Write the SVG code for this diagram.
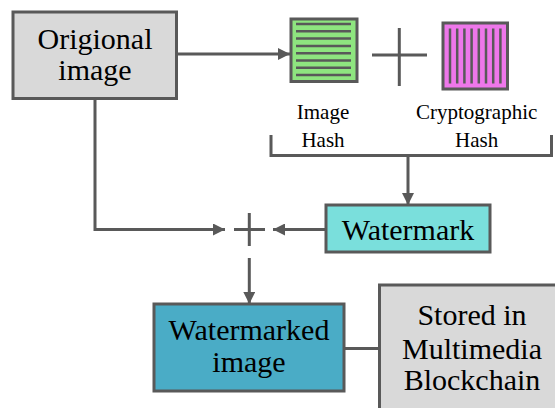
<svg xmlns="http://www.w3.org/2000/svg" width="555" height="408" viewBox="0 0 555 408">
  <defs>
    <style>
      .box { stroke: #595959; stroke-width: 3; }
      .line { stroke: #595959; stroke-width: 3; fill: none; }
      .stripe { stroke: #595959; stroke-width: 2.5; }
      text { font-family: 'Liberation Serif', serif; fill: #000; text-anchor: middle; }
      .big { font-size: 30px; }
      .small { font-size: 21px; }
    </style>
    <marker id="arrow" viewBox="0 0 10 10" refX="10" refY="5" markerWidth="4" markerHeight="4" orient="auto" markerUnits="strokeWidth">
      <path d="M0,0 L10,5 L0,10 z" fill="#595959"/>
    </marker>
  </defs>

  <rect width="555" height="408" fill="#ffffff"/>

  <!-- connectors -->
  <g id="connectors">
    <line class="line" x1="177" y1="54" x2="290" y2="54" marker-end="url(#arrow)"/>
    <polyline class="line" points="95,99 95,229.5 225,229.5" marker-end="url(#arrow)"/>
    <line class="line" x1="326" y1="229.5" x2="273" y2="229.5" marker-end="url(#arrow)"/>
    <polyline class="line" points="271,135 271,155.5 551.5,155.5 551.5,135"/>
    <line class="line" x1="408" y1="155.5" x2="408" y2="205" marker-end="url(#arrow)"/>
    <line class="line" x1="249.3" y1="258" x2="249.3" y2="304" marker-end="url(#arrow)"/>
    <line class="line" x1="344" y1="348.5" x2="379.5" y2="348.5"/>
  </g>

  <!-- plus signs -->
  <g id="plus-hashes">
    <line class="line" x1="372" y1="55" x2="427" y2="55"/>
    <line class="line" x1="399.3" y1="28" x2="399.3" y2="86"/>
  </g>
  <g id="plus-merge">
    <line class="line" x1="234" y1="229.5" x2="265" y2="229.5"/>
    <line class="line" x1="249.3" y1="213" x2="249.3" y2="246"/>
  </g>

  <g id="original-image">
    <rect class="box" x="13" y="12" width="163.5" height="86.5" fill="#d9d9d9"/>
    <text class="big" x="95" y="49">Origional</text>
    <text class="big" x="95" y="80">image</text>
  </g>

  <g id="image-hash">
    <rect class="box" x="291" y="19" width="66" height="62.5" fill="#8ee57f"/>
    <g class="stripe">
      <line x1="296" y1="24" x2="351" y2="24"/>
      <line x1="296" y1="31.3" x2="351" y2="31.3"/>
      <line x1="296" y1="38.6" x2="351" y2="38.6"/>
      <line x1="296" y1="45.9" x2="351" y2="45.9"/>
      <line x1="296" y1="53.2" x2="351" y2="53.2"/>
      <line x1="296" y1="60.5" x2="351" y2="60.5"/>
      <line x1="296" y1="67.8" x2="351" y2="67.8"/>
      <line x1="296" y1="75.1" x2="351" y2="75.1"/>
    </g>
    <text class="small" x="323" y="119">Image</text>
    <text class="small" x="323" y="147">Hash</text>
  </g>

  <g id="cryptographic-hash">
    <rect class="box" x="443" y="23" width="64.5" height="66" fill="#ee77ea"/>
    <g class="stripe">
      <line x1="450" y1="28.5" x2="450" y2="83.5"/>
      <line x1="457.2" y1="28.5" x2="457.2" y2="83.5"/>
      <line x1="464.4" y1="28.5" x2="464.4" y2="83.5"/>
      <line x1="471.6" y1="28.5" x2="471.6" y2="83.5"/>
      <line x1="478.8" y1="28.5" x2="478.8" y2="83.5"/>
      <line x1="486" y1="28.5" x2="486" y2="83.5"/>
      <line x1="493.2" y1="28.5" x2="493.2" y2="83.5"/>
      <line x1="500.4" y1="28.5" x2="500.4" y2="83.5"/>
    </g>
    <text class="small" x="476.7" y="119">Cryptographic</text>
    <text class="small" x="476.7" y="147">Hash</text>
  </g>

  <g id="watermark">
    <rect class="box" x="326" y="205" width="164" height="47" fill="#7adfdc"/>
    <text class="big" x="408" y="239.5">Watermark</text>
  </g>

  <g id="watermarked-image">
    <rect class="box" x="154" y="304" width="190" height="87" fill="#4aacc6"/>
    <text class="big" x="249" y="340">Watermarked</text>
    <text class="big" x="249" y="371.5">image</text>
  </g>

  <g id="blockchain-storage">
    <rect class="box" x="379.5" y="285" width="190" height="140" fill="#d9d9d9"/>
    <text class="big" x="472" y="325">Stored in</text>
    <text class="big" x="472" y="358.5">Multimedia</text>
    <text class="big" x="472" y="390">Blockchain</text>
  </g>
</svg>
